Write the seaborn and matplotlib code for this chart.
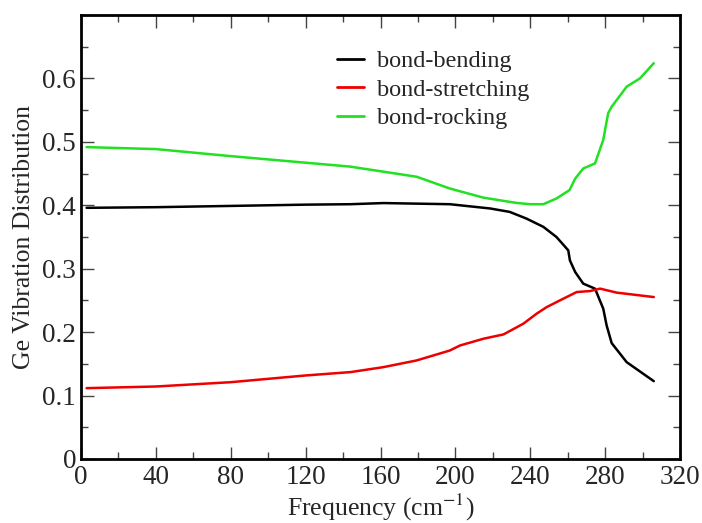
import numpy as np
import pandas as pd
import matplotlib
matplotlib.use("Agg")
import matplotlib.pyplot as plt
import seaborn as sns
from matplotlib.ticker import MultipleLocator

# Data
freq_bend = [3, 40, 80, 120, 144, 161.5, 197, 218.5, 229, 238, 247, 254, 260.3, 261.2, 264,
             268.3, 274.6, 279, 280.8, 283.5, 291.5, 306]
bending = [0.396, 0.397, 0.399, 0.401, 0.4017, 0.4035, 0.4017, 0.395, 0.3896, 0.379, 0.366, 0.350,
           0.329, 0.313, 0.2948, 0.2765, 0.2686, 0.237, 0.2106, 0.1827, 0.1527, 0.1227]

freq_str = [3, 40, 80, 120, 144, 161.5, 179.3, 197, 202.5, 215, 225.7, 236.3, 243.4, 248.8,
            257.7, 264.8, 272, 277.3, 286.2, 306]
stretching = [0.1117, 0.1143, 0.1211, 0.1317, 0.137, 0.1448, 0.1554, 0.171, 0.179, 0.1896,
              0.1964, 0.2133, 0.2291, 0.2395, 0.2528, 0.2632, 0.2648, 0.2686, 0.2623, 0.2553]

freq_rock = [3, 40, 80, 143.7, 179.3, 197, 215, 232.7, 240, 247, 254, 261, 264, 268.3, 274.6,
             279, 281.6, 283.5, 291.5, 298.6, 306]
rocking = [0.4917, 0.4886, 0.4775, 0.461, 0.445, 0.4265, 0.412, 0.4037, 0.4017, 0.4017, 0.4107,
           0.424, 0.442, 0.458, 0.466, 0.503, 0.545, 0.5554, 0.587, 0.600, 0.624]

labels = ["bond-bending", "bond-stretching", "bond-rocking"]
colors = ["#000000", "#ee0000", "#22e022"]

df = pd.concat([
    pd.DataFrame({"Frequency": freq_bend, "value": bending, "mode": labels[0]}),
    pd.DataFrame({"Frequency": freq_str, "value": stretching, "mode": labels[1]}),
    pd.DataFrame({"Frequency": freq_rock, "value": rocking, "mode": labels[2]}),
], ignore_index=True)

sns.set_theme(style="ticks")
plt.rcParams["font.family"] = ["Liberation Serif", "DejaVu Serif"]
plt.rcParams["mathtext.fontset"] = "stix"

fig = plt.figure(figsize=(7.02, 5.23), dpi=100)
ax = fig.add_axes([81/702, 1 - 459/523, (680-81)/702, (459-15)/523])

sns.lineplot(data=df, x="Frequency", y="value", hue="mode", palette=colors,
             hue_order=labels, linewidth=1.8, ax=ax, sort=False, estimator=None)

ax.set_xlim(0, 320)
ax.set_ylim(0, 0.7)
ax.xaxis.set_minor_locator(MultipleLocator(20))
ax.yaxis.set_minor_locator(MultipleLocator(0.05))
ax.set_xticks(np.arange(0, 321, 40))
ax.set_xticklabels([str(v) for v in range(0, 321, 40)])
ax.set_yticks(np.arange(0, 0.71, 0.1))
ax.set_yticklabels(["0", "0.1", "0.2", "0.3", "0.4", "0.5", "0.6", ""])
ax.tick_params(which="both", direction="in", top=True, right=True, labelsize=19.5,
               color="#444444", width=1.0)
ax.tick_params(which="major", length=9)
ax.tick_params(which="minor", length=5)
ax.tick_params(axis="x", pad=4)
ax.tick_params(axis="y", pad=3.5)
for s in ax.spines.values():
    s.set_linewidth(2.0)
    s.set_color("black")

ax.set_xlabel("Frequency (cm$^{-1}$)", fontsize=18.5, labelpad=2)
ax.set_ylabel("Ge Vibration Distribution", fontsize=18.5, labelpad=5)

leg = ax.legend(loc="upper left", bbox_to_anchor=((337-81)/599, 1 - (50-15)/444),
                frameon=False, fontsize=17.5, handlelength=1.1, handletextpad=0.55,
                labelspacing=0.27, borderaxespad=0, borderpad=0)
for line in leg.get_lines():
    line.set_linewidth(2.0)

fig.savefig("out.png", dpi=100)
